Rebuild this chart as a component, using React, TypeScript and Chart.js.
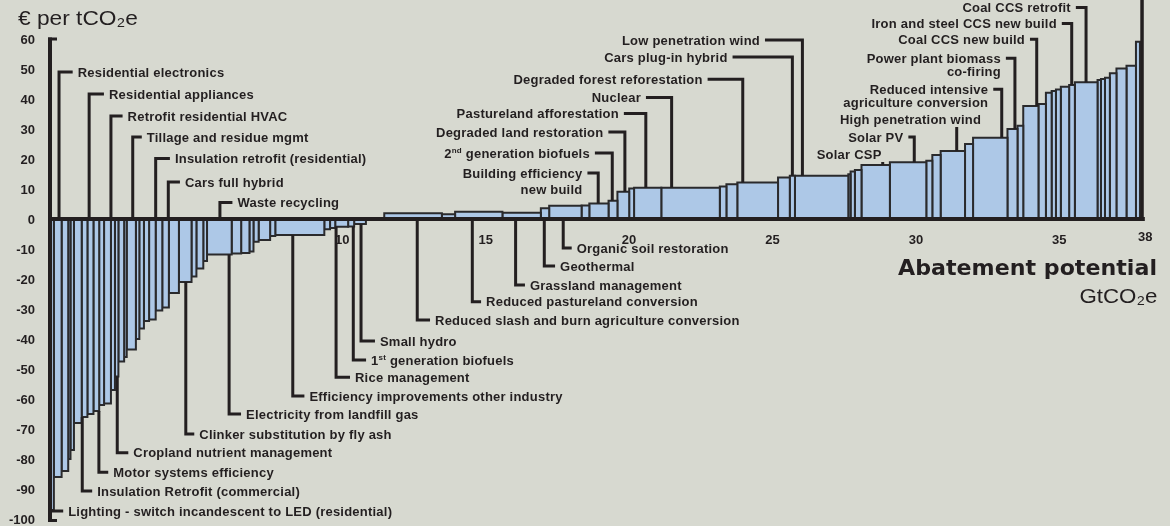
import React, { useEffect, useRef } from 'react';
import { Chart, registerables } from 'chart.js';

Chart.register(...registerables);

// ---- Data: abatement measures (width = GtCO2e potential, cost = € per tCO2e) ----
const abatementWidths: number[] = [
  0.10, 0.27, 0.23, 0.08, 0.12, 0.27, 0.20, 0.21, 0.20, 0.17,
  0.24, 0.14, 0.12, 0.20, 0.09, 0.32, 0.12, 0.16, 0.18, 0.23,
  0.23, 0.23, 0.35, 0.44, 0.17, 0.24, 0.13, 0.86, 0.33, 0.29,
  0.14, 0.18, 0.40, 0.18, 1.71, 0.20, 0.18, 0.45, 0.21, 0.41,
  0.64,
  2.01, 0.46, 1.65, 1.34, 0.29, 1.13, 0.27, 0.67, 0.31, 0.41,
  0.17, 0.95, 2.04, 0.23, 0.38, 1.42, 0.41, 0.18, 1.86, 0.08,
  0.15, 0.23, 0.99, 1.27, 0.21, 0.29, 0.85, 0.28, 1.20, 0.35,
  0.20, 0.53, 0.26, 0.20, 0.15, 0.17, 0.29, 0.20, 0.79, 0.12,
  0.14, 0.17, 0.23, 0.35, 0.33, 0.14,
];

const abatementCosts: number[] = [
  -97, -86, -84, -80, -77, -68, -66, -65, -64, -62,
  -61.5, -57, -52.5, -47.5, -46, -43.5, -40, -36.5, -34, -33.5,
  -30.5, -29.5, -24.7, -21, -19.2, -16.5, -14, -11.8, -11.5, -11.3,
  -10.8, -7.6, -7, -5.7, -5.3, -3.4, -3, -2.6, -2.5, -1.7,
  0,
  1.9, 1.6, 2.4, 2.1, 3.6, 4.4, 4.5, 5.2, 6.1, 9.1,
  10.2, 10.4, 10.4, 10.8, 11.6, 12.2, 13.8, 14.4, 14.4, 14.9,
  15.8, 16.3, 18.0, 18.9, 19.4, 21.3, 22.7, 25.0, 27.1, 30.0,
  31.1, 37.7, 38.3, 42.1, 42.7, 43.2, 44.1, 44.7, 45.6, 46.3,
  46.7, 47.1, 48.6, 50.2, 51.1, 59.1,
];

const xTickValues: number[] = [10, 15, 20, 25, 30, 35, 38];
const yTickValues: number[] = [60, 50, 40, 30, 20, 10, 0, -10, -20, -30, -40, -50, -60, -70, -80, -90, -100];

const labelTexts: string[] = [
  'Residential electronics',
  'Residential appliances',
  'Retrofit residential HVAC',
  'Tillage and residue mgmt',
  'Insulation retrofit (residential)',
  'Cars full hybrid',
  'Waste recycling',
  'Lighting - switch incandescent to LED (residential)',
  'Insulation Retrofit (commercial)',
  'Motor systems efficiency',
  'Cropland nutrient management',
  'Clinker substitution by fly ash',
  'Electricity from landfill gas',
  'Efficiency improvements other industry',
  'Rice management',
  '1^st^ generation biofuels',
  'Small hydro',
  'Organic soil restoration',
  'Geothermal',
  'Grassland management',
  'Reduced pastureland conversion',
  'Reduced slash and burn agriculture conversion',
  'Building efficiency\nnew build',
  '2^nd^ generation biofuels',
  'Degraded land restoration',
  'Pastureland afforestation',
  'Nuclear',
  'Degraded forest reforestation',
  'Cars plug-in hybrid',
  'Low penetration wind',
  'Coal CCS retrofit',
  'Iron and steel CCS new build',
  'Coal CCS new build',
  'Power plant biomass\nco-firing',
  'Reduced intensive\nagriculture conversion',
  'High penetration wind',
  'Solar PV',
  'Solar CSP',
];

// cumulative abatement (GtCO2e) each label's leader points at
const labelPointsAt: number[] = [
  0.28, 1.33, 2.09, 2.85, 3.65, 4.09, 5.89,
  0.06, 1.09, 1.67, 2.31, 4.70, 6.21, 8.43, 9.94, 10.54, 10.81,
  17.86, 17.20, 16.20, 14.69, 12.77,
  19.08, 19.57, 20.01, 20.74, 21.64, 24.12, 25.85, 26.20,
  36.09, 35.59, 34.37, 33.61, 33.15, 31.58, 30.10, 29.00,
];

// layout of the label text: [text edge x (Gt), text y (€), side, line height]
const labelPlacement: [number, number, string, number][] = [
  [0.93, 49.0, 'R', 14], [2.02, 41.67, 'R', 14], [2.67, 34.33, 'R', 14], [3.34, 27.33, 'R', 14],
  [4.32, 20.17, 'R', 14], [4.67, 12.33, 'R', 14], [6.50, 5.5, 'R', 14],
  [0.60, -97.33, 'R', 14], [1.61, -90.67, 'R', 14], [2.17, -84.43, 'R', 14], [2.87, -77.9, 'R', 14],
  [5.17, -71.67, 'R', 14], [6.80, -65.0, 'R', 14], [9.01, -59.0, 'R', 14], [10.60, -52.77, 'R', 14],
  [11.16, -47.0, 'R', 14], [11.47, -40.67, 'R', 14],
  [18.33, -9.67, 'R', 14], [17.75, -15.67, 'R', 14], [16.70, -22.0, 'R', 14], [15.17, -27.57, 'R', 14],
  [13.39, -33.67, 'R', 14],
  [18.53, 15.33, 'L', 16.6], [18.79, 22.0, 'L', 14], [19.26, 29.0, 'L', 14], [19.80, 35.17, 'L', 14],
  [20.57, 40.5, 'L', 14], [22.72, 46.57, 'L', 14], [23.59, 54.0, 'L', 14], [24.72, 59.67, 'L', 14],
  [35.56, 70.5, 'L', 14], [35.07, 65.17, 'L', 14], [33.96, 59.9, 'L', 14], [33.12, 53.57, 'L', 13.4],
  [32.68, 43.23, 'L', 12.6], [32.43, 33.23, 'U', 14], [29.72, 27.33, 'L', 14], [28.96, 21.57, 'U', 14],
];

// ---- Styles ----
const BG = '#d7d9d0';
const INK = '#231f20';
const BAR_FILL = '#adc8e7';
const BAR_EDGE = '#2a2a2c';
const FONT_FAMILY = '"Liberation Sans", Arial, Helvetica, sans-serif';
const LABEL_FONT = `bold 13px ${FONT_FAMILY}`;
const SUP_FONT = `bold 8px ${FONT_FAMILY}`;
const LABEL_SPACING = '0.22px';

const X_MIN = 0;
const X_MAX = 39.017;
const Y_MIN = -102.33;
const Y_MAX = 73;

function barEdges() {
  const out: { x0: number; x1: number; c: number }[] = [];
  let acc = 0;
  for (let i = 0; i < abatementWidths.length; i++) {
    const x0 = acc;
    acc += abatementWidths[i];
    out.push({ x0, x1: acc, c: abatementCosts[i] });
  }
  return out;
}

function costAt(x: number): number {
  const bars = barEdges();
  for (const b of bars) if (x >= b.x0 && x < b.x1) return b.c;
  return 0;
}

function drawRich(ctx: CanvasRenderingContext2D, text: string, x: number, y: number, align: 'left' | 'right') {
  const parts = text.split('^');
  const c: any = ctx;
  const widths = parts.map((p, i) => {
    ctx.font = i % 2 ? SUP_FONT : LABEL_FONT;
    return ctx.measureText(p).width;
  });
  const total = widths.reduce((a, b) => a + b, 0);
  let cx = align === 'right' ? x - total : x;
  ctx.textAlign = 'left';
  parts.forEach((p, i) => {
    ctx.font = i % 2 ? SUP_FONT : LABEL_FONT;
    ctx.fillText(p, cx, i % 2 ? y - 5 : y);
    cx += widths[i];
  });
  void c;
}

function drawFit(ctx: CanvasRenderingContext2D, text: string, font: string, x: number, y: number, align: 'left' | 'right', width: number) {
  ctx.font = font;
  const w = ctx.measureText(text).width;
  const s = width / w;
  ctx.save();
  const left = align === 'right' ? x - width : x;
  ctx.translate(left, y);
  ctx.scale(s, 1);
  ctx.textAlign = 'left';
  ctx.fillText(text, 0, 0);
  ctx.restore();
}

const decorPlugin = {
  id: 'costCurveDecor',
  afterDatasetsDraw(chart: any) {
    const { ctx } = chart;
    const xs = chart.scales.x;
    const ys = chart.scales.y;
    const X = (v: number) => xs.getPixelForValue(v);
    const Y = (v: number) => ys.getPixelForValue(v);
    ctx.save();
    ctx.strokeStyle = INK;
    ctx.fillStyle = INK;
    ctx.lineCap = 'butt';
    ctx.lineJoin = 'miter';
    ctx.textBaseline = 'alphabetic';

    // zero line
    ctx.lineWidth = 4;
    ctx.beginPath();
    ctx.moveTo(X(0) - 3, Y(0));
    ctx.lineTo(X(38) + 4, Y(0));
    ctx.stroke();

    // y axis line with end stubs
    ctx.lineWidth = 4;
    ctx.beginPath();
    ctx.moveTo(X(0) - 1, Y(60) - 1.5);
    ctx.lineTo(X(0) - 1, Y(-100) + 3);
    ctx.stroke();
    ctx.lineWidth = 3;
    ctx.beginPath();
    ctx.moveTo(X(0) - 3, Y(60));
    ctx.lineTo(X(0) + 6, Y(60));
    ctx.moveTo(X(0) - 3, Y(-100) + 1.5);
    ctx.lineTo(X(0) + 6, Y(-100) + 1.5);
    ctx.stroke();

    // right edge line
    ctx.lineWidth = 3.5;
    ctx.beginPath();
    ctx.moveTo(X(38) + 1.2, Y(0));
    ctx.lineTo(X(38) + 1.2, 0);
    ctx.stroke();

    // y tick labels
    ctx.font = LABEL_FONT;
    ctx.textAlign = 'right';
    yTickValues.forEach((v) => {
      ctx.fillText(String(v), 35, Y(v) + 4.6);
    });

    // x tick labels
    ctx.textAlign = 'center';
    xTickValues.forEach((v) => {
      const yy = v === 38 ? Y(0) + 21.5 : Y(0) + 24.5;
      ctx.fillText(String(v), X(v) + 4.5, yy);
    });

    // leaders and labels
    ctx.lineWidth = 3;
    (ctx as any).letterSpacing = LABEL_SPACING;
    labelTexts.forEach((text, i) => {
      const px = labelPointsAt[i];
      const [tx, ty, side, lh] = labelPlacement[i];
      const barVal = costAt(px);
      const startVal = (ty > 0) === (barVal > 0) ? barVal : 0;
      const lx = X(px);
      const ly = Y(ty);
      const tX = X(tx);
      ctx.beginPath();
      ctx.moveTo(lx, Y(startVal));
      if (side === 'U') {
        ctx.lineTo(lx, ly + 7.7);
      } else {
        ctx.lineTo(lx, ly);
        ctx.lineTo(side === 'R' ? tX - 5 : tX + 5, ly);
      }
      ctx.stroke();
      const lines = text.split('\n');
      lines.forEach((line, k) => {
        drawRich(ctx, line, tX, ly + 4.6 + k * lh, side === 'R' ? 'left' : 'right');
      });
    });
    (ctx as any).letterSpacing = '0px';

    // axis titles
    ctx.fillStyle = INK;
    drawFit(ctx, '€ per tCO₂e', `21px ${FONT_FAMILY}`, 18, 25, 'left', 120);
    drawFit(ctx, 'Abatement potential', `bold 22px "DejaVu Sans", ${FONT_FAMILY}`, 1157, 275, 'right', 259);
    drawFit(ctx, 'GtCO₂e', `21px ${FONT_FAMILY}`, 1157.5, 303, 'right', 78);

    ctx.restore();
  },
};

export default function App() {
  const canvasRef = useRef<HTMLCanvasElement | null>(null);

  useEffect(() => {
    const canvas = canvasRef.current;
    if (!canvas) return;
    const bars = barEdges();
    const datasets = bars.map((b) => ({
      data: [
        { x: b.x0, y: 0 },
        { x: b.x0, y: b.c },
        { x: b.x1, y: b.c },
        { x: b.x1, y: 0 },
      ],
      borderColor: BAR_EDGE,
      borderWidth: 2,
      backgroundColor: BAR_FILL,
      fill: 'origin',
      pointRadius: 0,
      pointHoverRadius: 0,
      tension: 0,
      borderJoinStyle: 'miter' as const,
    }));

    const chart = new Chart(canvas, {
      type: 'line',
      data: { datasets: datasets as any },
      options: {
        responsive: false,
        animation: false,
        events: [],
        layout: { padding: { left: 51, right: 0, top: 0, bottom: 0 } },
        scales: {
          x: { type: 'linear', min: X_MIN, max: X_MAX, display: false },
          y: { type: 'linear', min: Y_MIN, max: Y_MAX, display: false },
        },
        plugins: {
          legend: { display: false },
          tooltip: { enabled: false },
          title: { display: false },
        },
      },
      plugins: [decorPlugin],
    });
    return () => chart.destroy();
  }, []);

  return (
    <div style={{ position: 'fixed', left: 0, top: 0, width: 1170, height: 526, background: BG }}>
      <canvas ref={canvasRef} width={1170} height={526} style={{ display: 'block' }} />
    </div>
  );
}
